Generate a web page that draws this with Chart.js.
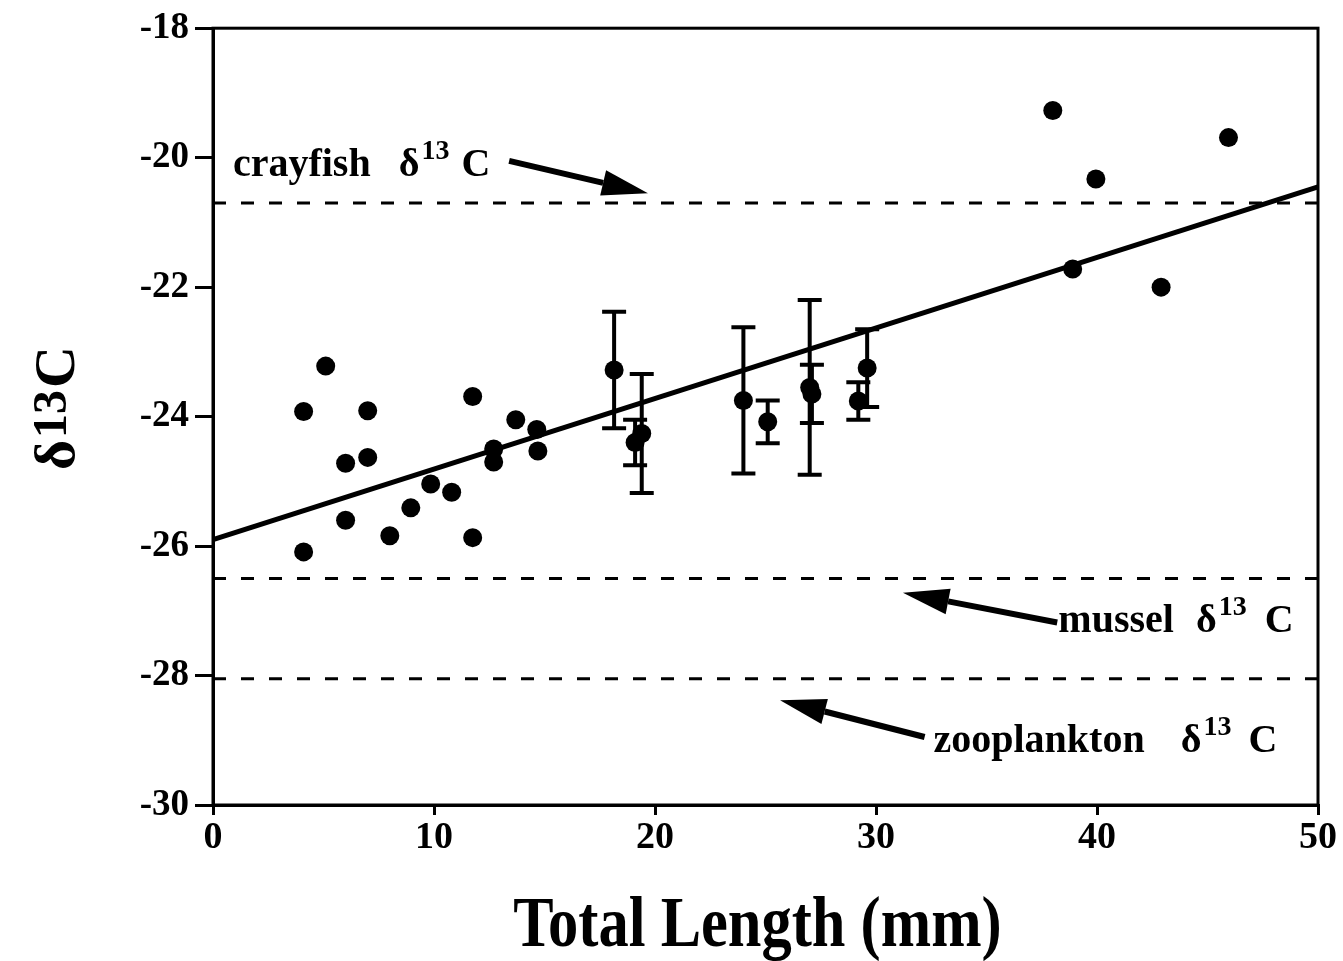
<!DOCTYPE html>
<html>
<head>
<meta charset="utf-8">
<title>δ13C vs Total Length</title>
<script src="https://cdn.jsdelivr.net/npm/chart.js@4"></script>
<style>
  html, body { margin: 0; padding: 0; background: #fff; }
  #wrap { width: 1343px; height: 961px; }
</style>
</head>
<body>
<div id="wrap"><canvas id="chart" width="1343" height="961"></canvas></div>
<script>
// Values
const lengthSingle = [4.1, 4.1, 5.1, 6.0, 6.0, 7.0, 7.0, 8.0, 8.95, 9.85, 10.8, 11.75, 11.75, 12.7, 12.7, 13.7, 14.65, 14.7, 38.0, 38.9, 39.95, 42.9, 45.95];
const d13cSingle = [-23.92, -26.09, -23.22, -24.72, -25.6, -23.91, -24.63, -25.84, -25.41, -25.04, -25.17, -23.69, -25.87, -24.5, -24.7, -24.05, -24.2, -24.53, -19.27, -21.72, -20.33, -22.0, -19.69];

// means with error bars
const lengthMean = [18.15, 19.1, 19.4, 24.0, 25.1, 27.0, 27.1, 29.2, 29.6];
const d13cMean = [-23.28, -24.4, -24.26, -23.75, -24.08, -23.55, -23.65, -23.76, -23.25];
const d13cErr = [0.9, 0.35, 0.92, 1.13, 0.33, 1.35, 0.45, 0.29, 0.6];

// regression line end points
const fitLength = [0, 50];
const fitD13c = [-25.9, -20.45];

// reference lines
const refLength = [0, 50];
const crayfishD13c = -20.7;
const musselD13c = -26.5;
const zooplanktonD13c = -28.05;

const xTicks = [0, 10, 20, 30, 40, 50];
const yTicks = [-30, -28, -26, -24, -22, -20, -18];

const SERIF = "'Liberation Serif', 'Times New Roman', 'DejaVu Serif', serif";

const pts = (xs, ys) => xs.map((x, i) => ({ x: x, y: ys[i] }));
const level = (xs, v) => xs.map(x => ({ x: x, y: v }));

// labels with superscript 13, anchored in data units
const labels = [
  { word: 'crayfish', x: 0.9, y: -20.28, gap1: 28, gap2: 12 },
  { word: 'mussel', x: 38.25, y: -27.33, gap1: 22, gap2: 18 },
  { word: 'zooplankton', x: 32.6, y: -29.18, gap1: 36, gap2: 17 }
];
const arrows = [
  { from: [13.4, -20.05], to: [19.68, -20.55] },
  { from: [38.2, -27.18], to: [31.22, -26.72] },
  { from: [32.2, -28.95], to: [25.66, -28.38] }
];

const errorBars = {
  id: 'errorBars',
  afterDatasetsDraw(chart) {
    const { ctx, scales: { x, y } } = chart;
    ctx.save();
    ctx.strokeStyle = '#000';
    ctx.lineWidth = 4;
    lengthMean.forEach((l, i) => {
      const px = x.getPixelForValue(l);
      const top = y.getPixelForValue(d13cMean[i] + d13cErr[i]);
      const bot = y.getPixelForValue(d13cMean[i] - d13cErr[i]);
      ctx.beginPath();
      ctx.moveTo(px, top); ctx.lineTo(px, bot);
      ctx.moveTo(px - 12, top); ctx.lineTo(px + 12, top);
      ctx.moveTo(px - 12, bot); ctx.lineTo(px + 12, bot);
      ctx.stroke();
    });
    ctx.restore();
  }
};

const decorations = {
  id: 'decorations',
  afterDraw(chart) {
    const { ctx, chartArea: a, scales: { x, y } } = chart;
    ctx.save();
    // frame
    ctx.strokeStyle = '#000';
    ctx.lineWidth = 3;
    ctx.strokeRect(a.left, a.top, a.right - a.left, a.bottom - a.top);

    // arrows
    ctx.fillStyle = '#000';
    arrows.forEach(ar => {
      const x0 = x.getPixelForValue(ar.from[0]), y0 = y.getPixelForValue(ar.from[1]);
      const x1 = x.getPixelForValue(ar.to[0]), y1 = y.getPixelForValue(ar.to[1]);
      const ang = Math.atan2(y1 - y0, x1 - x0);
      const hl = 46, hw = 13;
      const bx = x1 - hl * Math.cos(ang), by = y1 - hl * Math.sin(ang);
      ctx.lineWidth = 6;
      ctx.beginPath();
      ctx.moveTo(x0, y0); ctx.lineTo(bx, by);
      ctx.stroke();
      ctx.beginPath();
      ctx.moveTo(x1, y1);
      ctx.lineTo(bx + hw * Math.sin(ang), by - hw * Math.cos(ang));
      ctx.lineTo(bx - hw * Math.sin(ang), by + hw * Math.cos(ang));
      ctx.closePath();
      ctx.fill();
    });

    // labels
    ctx.textBaseline = 'alphabetic';
    ctx.textAlign = 'left';
    labels.forEach(lb => {
      let px = x.getPixelForValue(lb.x);
      const py = y.getPixelForValue(lb.y);
      ctx.font = 'bold 40px ' + SERIF;
      ctx.fillText(lb.word, px, py);
      px += ctx.measureText(lb.word).width + lb.gap1;
      ctx.fillText('δ', px, py);
      px += ctx.measureText('δ').width + 2;
      ctx.font = 'bold 28px ' + SERIF;
      ctx.fillText('13', px, py - 17);
      px += ctx.measureText('13').width + lb.gap2;
      ctx.font = 'bold 40px ' + SERIF;
      ctx.fillText('C', px, py);
    });

    // y axis title, rotated
    ctx.save();
    ctx.translate(74, 470);
    ctx.rotate(-Math.PI / 2);
    let tx = 0;
    ctx.font = 'bold 58px ' + SERIF;
    ctx.fillText('δ', tx, 0);
    tx += ctx.measureText('δ').width + 2;
    ctx.font = 'bold 48px ' + SERIF;
    ctx.fillText('13', tx, -8);
    tx += ctx.measureText('13').width + 2;
    ctx.font = 'bold 58px ' + SERIF;
    ctx.fillText('C', tx, 0);
    ctx.restore();

    // x axis title, condensed
    ctx.save();
    ctx.font = 'bold 72px ' + SERIF;
    ctx.textAlign = 'center';
    ctx.translate((a.left + a.right) / 2 - 8, 946);
    ctx.scale(0.84, 1);
    ctx.fillText('Total Length (mm)', 0, 0);
    ctx.restore();

    ctx.restore();
  }
};

const refStyle = { type: 'line', borderColor: '#000', borderWidth: 3, borderDash: [13, 15], pointRadius: 0, fill: false };

new Chart(document.getElementById('chart'), {
  type: 'scatter',
  data: {
    datasets: [
      Object.assign({ label: 'crayfish', data: level(refLength, crayfishD13c) }, refStyle),
      Object.assign({ label: 'mussel', data: level(refLength, musselD13c) }, refStyle),
      Object.assign({ label: 'zooplankton', data: level(refLength, zooplanktonD13c) }, refStyle),
      {
        type: 'line', label: 'fit', data: pts(fitLength, fitD13c),
        borderColor: '#000', borderWidth: 5, pointRadius: 0, fill: false
      },
      {
        label: 'individuals', data: pts(lengthSingle, d13cSingle),
        pointRadius: 9.5, pointBackgroundColor: '#000', pointBorderWidth: 0
      },
      {
        label: 'means', data: pts(lengthMean, d13cMean),
        pointRadius: 9.5, pointBackgroundColor: '#000', pointBorderWidth: 0
      }
    ]
  },
  options: {
    responsive: false,
    animation: false,
    layout: { padding: { top: 27, right: 25, left: 0, bottom: 0 } },
    plugins: { legend: { display: false }, tooltip: { enabled: false } },
    scales: {
      x: {
        type: 'linear', min: 0, max: 50,
        afterBuildTicks: s => { s.ticks = xTicks.map(v => ({ value: v })); },
        afterFit: s => { s.height = 156; },
        ticks: { color: '#000', font: { family: SERIF, size: 38, weight: 'bold' }, padding: 0, maxRotation: 0 },
        grid: { drawOnChartArea: false, color: '#000', lineWidth: 3, tickLength: 10 },
        border: { color: '#000', width: 3 }
      },
      y: {
        type: 'linear', min: -30, max: -18,
        afterBuildTicks: s => { s.ticks = yTicks.map(v => ({ value: v })); },
        afterFit: s => { s.width = 213; },
        ticks: { color: '#000', font: { family: SERIF, size: 37, weight: 'bold' }, padding: 6 },
        grid: { drawOnChartArea: false, color: '#000', lineWidth: 3, tickLength: 18 },
        border: { color: '#000', width: 3 }
      }
    }
  },
  plugins: [errorBars, decorations]
});
</script>
</body>
</html>
